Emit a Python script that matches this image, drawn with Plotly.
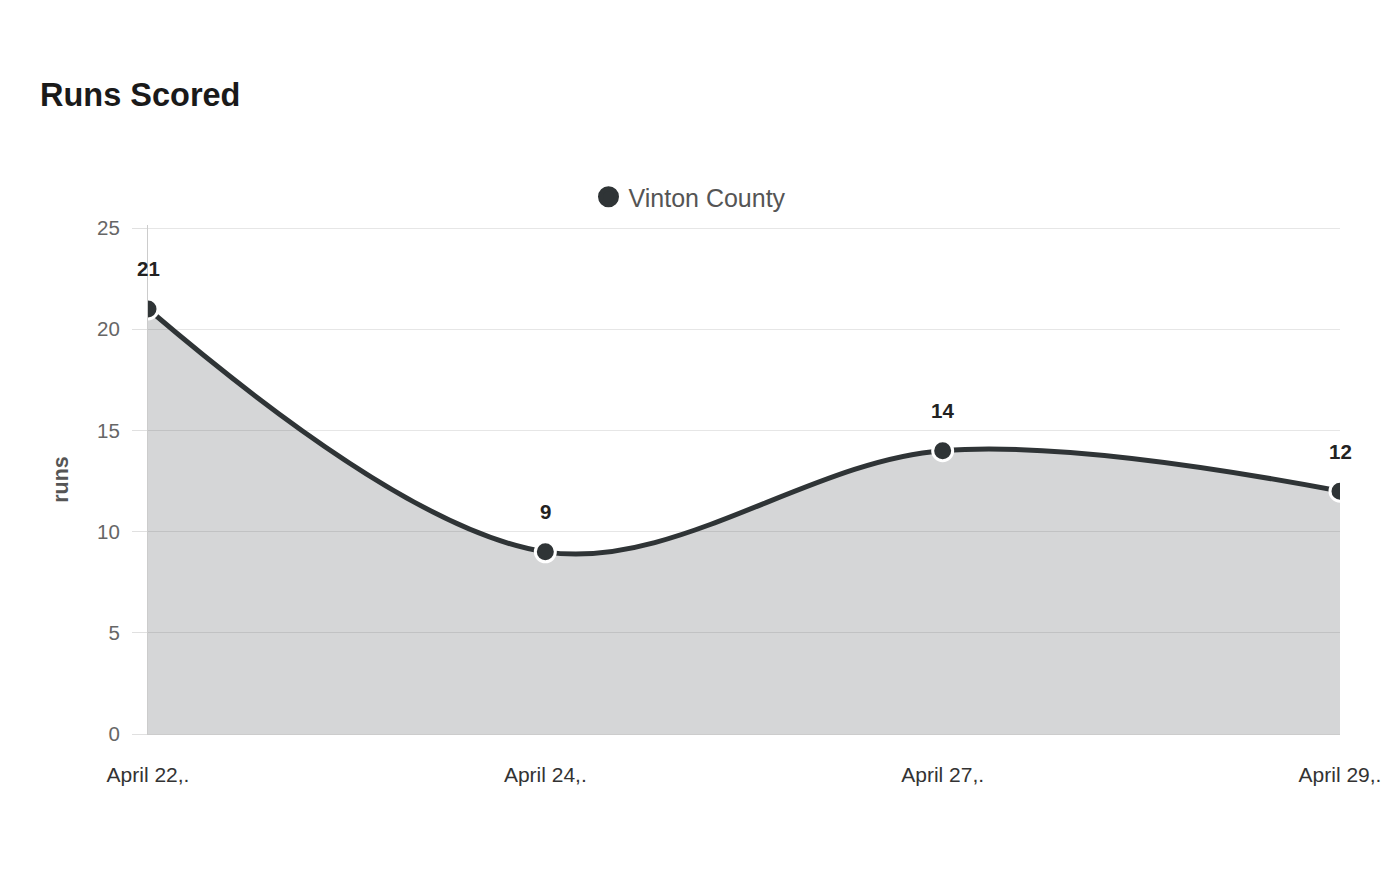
import plotly.graph_objects as go

categories = ["April 22,.", "April 24,.", "April 27,.", "April 29,."]
runs = [21, 9, 14, 12]
series_name = "Vinton County"
y_ticks = [0, 5, 10, 15, 20, 25]

FONT = "Liberation Sans, Arial, sans-serif"
LINE = "#2f3436"

fig = go.Figure()
fig.add_trace(go.Scatter(
    x=categories, y=runs, mode="lines+markers",
    line=dict(color=LINE, width=5, shape="spline", smoothing=1),
    marker=dict(size=20, color=LINE, line=dict(color="white", width=3)),
    fill="tozeroy", fillcolor="rgba(47,52,54,0.2)",
    showlegend=False, hoverinfo="x+y",
))
# legend entry
fig.add_trace(go.Scatter(
    x=[None], y=[None], mode="markers", name=series_name,
    marker=dict(size=30, color=LINE, line=dict(color=LINE, width=5)),
    showlegend=True,
))

for c, v in zip(categories, runs):
    fig.add_annotation(x=c, y=v, text=f"<b>{v}</b>", showarrow=False,
                       yshift=40, font=dict(size=20.5, color="#222", family=FONT))

fig.update_layout(
    width=1400, height=880,
    margin=dict(l=148, r=60, t=225, b=146, autoexpand=False),
    paper_bgcolor="white", plot_bgcolor="white",
    font=dict(family=FONT),
    title=dict(text="<b>Runs Scored</b>", x=40/1400, xref="container", xanchor="left",
               y=1-95/880, yref="container", yanchor="middle",
               font=dict(size=32.5, color="#1a1a1a", family=FONT)),
    legend=dict(orientation="h", xref="container", x=690/1400, xanchor="center",
                yref="container", y=1-197/880, yanchor="middle",
                font=dict(size=25, color="#555", family=FONT)),
    xaxis=dict(type="category", range=[0, 3], showgrid=False, zeroline=False,
               showline=True, linecolor="#cccccc", linewidth=1,
               ticks="", ticklabelstandoff=22,
               tickfont=dict(size=21, color="#333", family=FONT)),
    yaxis=dict(range=[0, 25.15], tickvals=y_ticks, showgrid=True, gridcolor="#e6e6e6",
               gridwidth=1, zeroline=False, showline=True, linecolor="#cccccc",
               ticks="outside", ticklen=15, tickcolor="#e0e0e0",
               ticklabelstandoff=8,
               tickfont=dict(size=20.5, color="#666", family=FONT),
               title=dict(text="<b>runs</b>", standoff=22,
                          font=dict(size=21.5, color="#555", family=FONT))),
)

fig.write_html("out.html")
